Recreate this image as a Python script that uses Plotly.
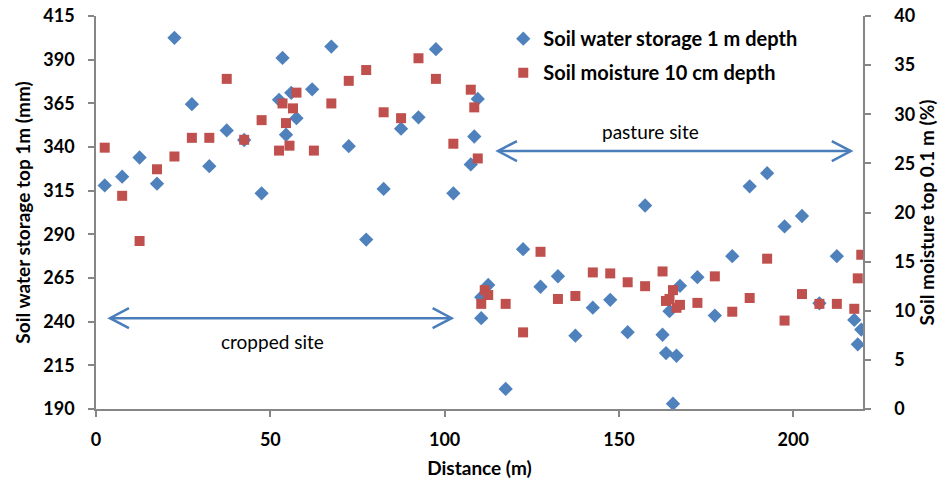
import plotly.graph_objects as go

# Soil water storage over the top 1 m (mm) along the transect
storage_x = [2.5, 7.5, 12.5, 17.5, 22.5, 27.5, 32.5, 37.5, 42.5, 47.5,
             52.5, 53.5, 54.5, 56.0, 57.5, 62.0, 67.5, 72.5, 77.5, 82.5,
             87.5, 92.5, 97.5, 102.5, 107.5, 108.5, 109.5, 110.5, 110.5, 112.5,
             117.5, 122.5, 127.5, 132.5, 137.5, 142.5, 147.5, 152.5, 157.5, 162.5,
             163.5, 164.5, 165.5, 166.5, 167.5, 172.5, 177.5, 182.5, 187.5, 192.5,
             197.5, 202.5, 207.5, 212.5, 217.5, 218.5, 219.5]
storage_mm = [318, 323, 334, 319, 402.5, 364.5, 329, 349.5, 344, 313.5,
              367, 391, 347, 371, 356.5, 373, 397.5, 340.5, 287, 316,
              350.5, 357, 396, 313.5, 330, 346, 367.5, 242, 254, 261,
              201.5, 281.5, 260, 266, 232, 248, 252.5, 234, 306.5, 232.5,
              222, 246, 193, 220.5, 260.5, 265.5, 243.5, 277.5, 317.5, 325,
              294.5, 300.5, 250.5, 277.5, 241, 227, 235.5]

# Soil moisture in the top 10 cm (%) along the transect
moisture_x = [2.5, 7.5, 12.5, 17.5, 22.5, 27.5, 32.5, 37.5, 42.5, 47.5,
              52.5, 53.5, 54.5, 55.5, 56.5, 57.5, 62.5, 67.5, 72.5, 77.5,
              82.5, 87.5, 92.5, 97.5, 102.5, 107.5, 108.5, 109.5, 110.5, 111.5,
              112.5, 117.5, 122.5, 127.5, 132.5, 137.5, 142.5, 147.5, 152.5, 157.5,
              162.5, 163.5, 164.5, 165.5, 166.5, 167.5, 172.5, 177.5, 182.5, 187.5,
              192.5, 197.5, 202.5, 207.5, 212.5, 217.5, 218.5, 219.5]
moisture_pct = [26.6, 21.7, 17.1, 24.4, 25.7, 27.6, 27.6, 33.6, 27.4, 29.4,
                26.3, 31.1, 29.1, 26.8, 30.6, 32.2, 26.3, 31.1, 33.4, 34.5,
                30.2, 29.6, 35.7, 33.6, 27.0, 32.5, 30.7, 25.5, 10.7, 12.1,
                11.6, 10.7, 7.8, 16.0, 11.2, 11.5, 13.9, 13.8, 12.9, 12.5,
                14.0, 11.0, 11.2, 12.1, 10.3, 10.6, 10.8, 13.5, 9.9, 11.3,
                15.3, 9.0, 11.7, 10.7, 10.7, 10.2, 13.3, 15.7]

# Site extents along the transect (distance, storage-axis height)
cropped_span = (4.0, 102.0)
cropped_level = 242.0
pasture_span = (115.3, 216.5)
pasture_level = 337.7

x_ticks = [0, 50, 100, 150, 200]
left_ticks = [190, 215, 240, 265, 290, 315, 340, 365, 390, 415]
right_ticks = [0, 5, 10, 15, 20, 25, 30, 35, 40]

BLUE = "#4F81BD"
RED = "#C0504D"
ARROW = "#4A7EBB"
AXIS = "#868686"
FONT = "Lato"

fig = go.Figure()

fig.add_trace(go.Scatter(
    x=storage_x, y=storage_mm, mode="markers",
    name="Soil water storage 1 m depth", legendgroup="storage",
    marker=dict(symbol="diamond", size=11, color=BLUE, line=dict(width=0)),
    yaxis="y",
))
fig.add_trace(go.Scatter(
    x=moisture_x, y=moisture_pct, mode="markers",
    name="Soil moisture 10 cm depth", legendgroup="moisture",
    marker=dict(symbol="square", size=10, color=RED, line=dict(width=0)),
    yaxis="y2",
))

# Double-headed arrows marking each site
for (x0, x1), level in [(cropped_span, cropped_level), (pasture_span, pasture_level)]:
    fig.add_shape(type="line", xref="x", yref="y", x0=x0, x1=x1, y0=level, y1=level,
                  line=dict(color=ARROW, width=2.5))
    fig.add_shape(type="path", xref="x", yref="y", xsizemode="pixel", ysizemode="pixel",
                  xanchor=x0, yanchor=level, path="M 19 10 L 0 0 L 19 -10",
                  line=dict(color=ARROW, width=2.5))
    fig.add_shape(type="path", xref="x", yref="y", xsizemode="pixel", ysizemode="pixel",
                  xanchor=x1, yanchor=level, path="M -19 10 L 0 0 L -19 -10",
                  line=dict(color=ARROW, width=2.5))

fig.add_annotation(x=50.5, y=228.4, xref="x", yref="y", text="cropped site",
                   showarrow=False, font=dict(family=FONT, size=19, color="#000000"))
fig.add_annotation(x=159, y=348.6, xref="x", yref="y", text="pasture site",
                   showarrow=False, font=dict(family=FONT, size=19, color="#000000"))

axis_common = dict(
    showline=True, linecolor=AXIS, linewidth=1.5,
    ticks="outside", tickcolor=AXIS, ticklen=6, tickwidth=1.5,
    showgrid=False, zeroline=False, automargin=False,
    tickfont=dict(family=FONT, size=18, color="#000000", weight="bold"),
)
title_font = dict(family=FONT, size=19, color="#000000", weight="bold")

fig.update_layout(
    width=938, height=484,
    margin=dict(l=96, r=75, t=16, b=75),
    paper_bgcolor="white", plot_bgcolor="white",
    font=dict(family=FONT, color="#000000"),
    xaxis=dict(range=[0, 220], tickvals=x_ticks, ticklabelstandoff=8,
               title=dict(text="Distance (m)", standoff=12, font=title_font),
               **axis_common),
    yaxis=dict(range=[190, 415], tickvals=left_ticks, ticklabelstandoff=10,
               title=dict(text="Soil water storage top 1m (mm)", standoff=8, font=title_font),
               **axis_common),
    yaxis2=dict(range=[0, 40], tickvals=right_ticks, overlaying="y", side="right",
                ticklabelstandoff=20,
                title=dict(text="Soil moisture top 0.1 m (%)", standoff=8, font=title_font),
                **axis_common),
    legend=dict(x=0.531, y=0.992, xanchor="left", yanchor="top",
                bgcolor="rgba(0,0,0,0)", itemwidth=30, tracegroupgap=5,
                font=dict(family=FONT, size=20, color="#000000", weight="bold")),
    showlegend=True,
)

fig.write_html("out.html")
